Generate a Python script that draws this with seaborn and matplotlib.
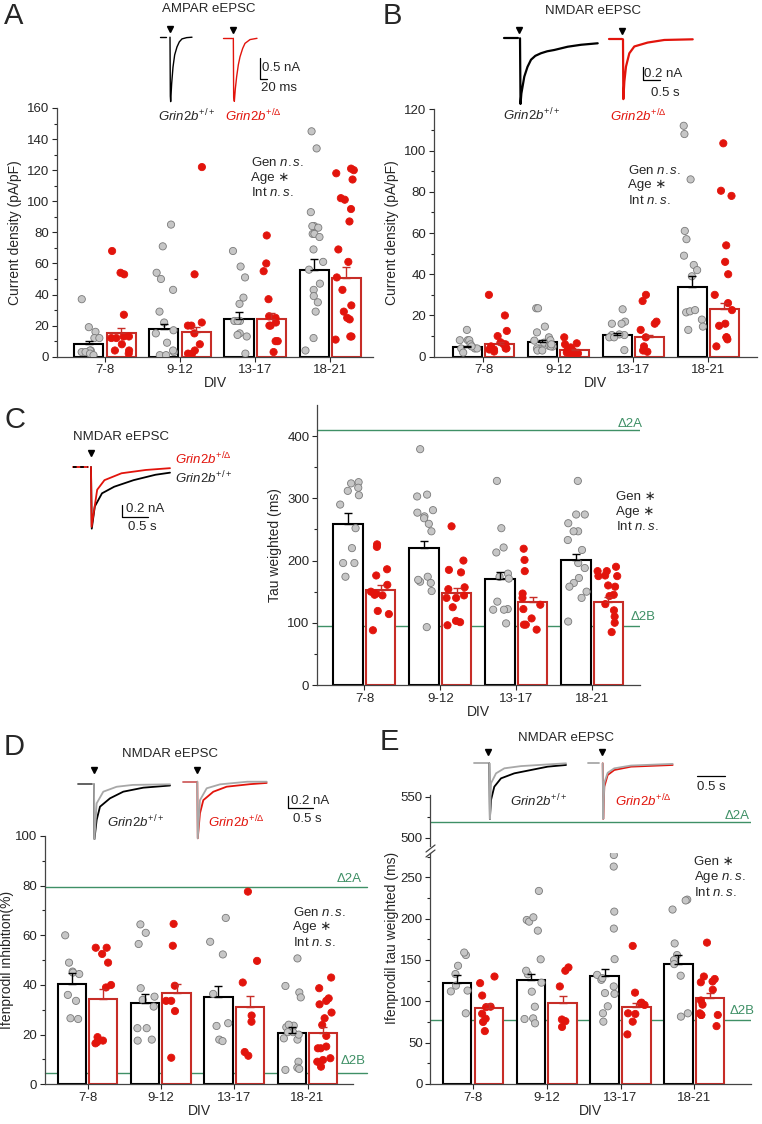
import numpy as np
import pandas as pd
import matplotlib
matplotlib.use("Agg")
from matplotlib import pyplot as plt
from matplotlib.lines import Line2D
import seaborn as sns

divs = ["7-8", "9-12", "13-17", "18-21"]

# ---------- A: AMPAR current density (pA/pF) ----------
a_wt = [[37, 16, 19, 12, 12, 4, 4, 3, 3, 2, 1],
        [85, 71, 54, 50, 43, 29, 22, 17, 15, 9, 3, 1, 1, 4],
        [68, 58, 51, 38, 34, 23, 23, 23, 15, 14, 13, 2],
        [145, 134, 93, 84, 84, 83, 79, 79, 77, 69, 61, 56, 47, 43, 39, 35, 29, 12, 4]]
a_mut = [[68, 53, 54, 27, 13, 13, 12, 12, 8, 4, 4, 2],
         [122, 53, 22, 20, 20, 15, 8, 4, 2, 2],
         [78, 60, 55, 37, 26, 25, 22, 20, 20, 10, 10, 3],
         [121, 120, 118, 114, 102, 101, 95, 87, 69, 61, 51, 43, 33, 29, 25, 24, 13, 13, 11]]
a_wt_mean = [8.2, 17.6, 24.5, 55.9]
a_wt_sem = [1.9, 3.3, 4.3, 7.0]
a_mut_mean = [15.3, 16.1, 24.3, 50.5]
a_mut_sem = [3.4, 3.3, 4.1, 6.9]

# ---------- B: NMDAR current density (pA/pF) ----------
b_wt = [[13, 8, 8, 8, 6, 4, 4, 4, 2, 5],
        [23.5, 23.5, 14.6, 11.8, 9.4, 8, 7.8, 6.8, 5.2, 4.9, 4, 4, 5, 6, 3, 3],
        [23, 17, 16, 16, 10.5, 10.8, 10.5, 9.4, 9.4, 3.2],
        [108, 112, 86, 61, 57, 49, 44.5, 42, 39, 21.5, 22, 22.6, 18, 14.6, 13]]
b_mut = [[30, 20, 12.5, 10, 6, 6, 7, 4, 3.5, 3.5, 2.5, 5, 4],
         [9.4, 6.5, 6, 4.5, 3.6, 2.9, 2.4, 1.6, 2.9, 1.6, 2, 2.5, 1.5],
         [30, 27, 17, 16, 13, 9.4, 3, 2.4, 5],
         [103.5, 78, 80.5, 54, 46, 40, 30, 26, 22.6, 16, 15, 9.4, 8.4, 9.4, 5]]
b_wt_mean = [4.9, 7.3, 10.5, 34.0]
b_wt_sem = [0.5, 0.8, 0.9, 5.3]
b_mut_mean = [6.1, 3.2, 9.4, 23.0]
b_mut_sem = [0.9, 0.5, 1.1, 3.2]

# ---------- C: tau weighted (ms) ----------
c_wt = [[326, 317, 312, 324, 290, 305, 252, 220, 196, 196, 174],
        [379, 306, 303, 281, 271, 268, 277, 259, 247, 174, 166, 164, 169, 151, 93],
        [328, 252, 221, 213, 179, 174, 171, 122, 121, 121, 134, 99],
        [328, 274, 274, 260, 247, 247, 233, 217, 196, 188, 172, 164, 150, 158, 102, 140]]
c_mut = [[226, 222, 186, 176, 161, 144, 147, 150, 145, 114, 119, 88],
         [255, 200, 185, 181, 154, 157, 140, 140, 144, 125, 101, 103, 96],
         [219, 201, 183, 147, 140, 129, 122, 107, 97, 97, 89],
         [190, 183, 183, 175, 175, 176, 160, 158, 145, 143, 130, 120, 110, 100, 85]]
c_wt_mean = [259, 220.5, 170.7, 201.3]
c_wt_sem = [17, 11.5, 10.3, 9.2]
c_mut_mean = [152.4, 147.6, 133.2, 134]
c_mut_sem = [8.6, 8.1, 9.0, 7.0]
c_d2a, c_d2b = 410, 95

# ---------- D: ifenprodil inhibition (%) ----------
d_wt = [[60, 49, 45.4, 45, 44.4, 36, 33.6, 26.6, 26.3],
        [64.4, 61, 56.5, 38.7, 35.3, 34, 31.3, 22.6, 22.6, 18, 17.6],
        [67, 57.4, 52.3, 36.4, 23.5, 24.6, 18, 17.4],
        [50.7, 39.6, 37, 35, 23, 23.6, 24, 18, 18.5, 21, 9.1, 6.7, 5.8, 6.2, 21, 20]]
d_mut = [[52.5, 55, 55, 49, 39, 40, 19, 17, 16.5, 17.6],
         [64.6, 55.8, 39.7, 33.6, 33.6, 29.5, 10.7],
         [77.6, 49.7, 41, 25.2, 27.7, 13, 11.5],
         [43, 38.7, 33.6, 34.6, 32.2, 28.9, 26.6, 23.9, 19.5, 14.5, 15.2, 14.5, 10.5, 9.8, 9.1, 7.1]]
d_wt_mean = [40.3, 32.9, 35.3, 20.5]
d_wt_sem = [4.4, 3.5, 4.4, 2.5]
d_mut_mean = [34.4, 36.6, 31.3, 20.5]
d_mut_sem = [3.9, 3.8, 4.3, 2.7]
d_d2a, d_d2b = 79.4, 4.7

# ---------- E: ifenprodil tau weighted (ms) ----------
e_wt = [[156, 159, 143, 133, 119, 113, 112, 85.5],
        [233.5, 198.4, 196.4, 201.6, 185.5, 150.8, 122.6, 132.7, 137, 111.7, 79.4, 73.4, 78.6, 93.5],
        [277, 263, 208.5, 188, 151, 132, 118, 126, 128, 110, 109, 94, 85.5, 75.4],
        [223, 222, 211, 170, 156, 150, 131, 145, 81.5, 85.5]]
e_mut = [[130, 122, 107, 93, 93.5, 79, 75, 64, 85],
         [141, 137, 118, 76, 78, 69],
         [167, 110.5, 95.6, 97.6, 98.4, 85.5, 84.7, 75.4, 60],
         [171, 123, 130, 127, 124, 114, 101, 96, 85.5, 83.5, 83.5, 83.5, 70]]
e_wt_mean = [121.8, 125.8, 131, 144.8]
e_wt_sem = [10.1, 7.2, 7.7, 11.2]
e_mut_mean = [92.3, 98.4, 92.7, 104.4]
e_mut_sem = [4.5, 8.1, 5.7, 6.1]
e_d2a, e_d2b = 519, 78

# ---------- example traces (time ms, current nA or normalised) ----------
ta_wt_t = [0, 1, 2, 5, 9, 14, 21, 28, 36, 50, 66]
ta_wt_i = [0, -1.4, -1.53, -1.1, -0.71, -0.42, -0.23, -0.11, -0.04, -0.01, 0]
ta_mut_t = [0, 1, 3, 6, 10, 15, 20, 28, 35, 50, 71]
ta_mut_i = [0, -1.4, -1.5, -1.2, -0.91, -0.63, -0.44, -0.24, -0.12, -0.03, 0]

tb_wt_t = [0, 15, 40, 126, 220, 323, 450, 617, 800, 1008, 1402, 1793, 2284]
tb_wt_i = [0, -1.01, -0.85, -0.59, -0.44, -0.33, -0.27, -0.23, -0.2, -0.18, -0.13, -0.1, -0.077]
tb_mut_t = [0, 10, 40, 88, 186, 333, 725, 1215, 2050]
tb_mut_i = [0, -0.92, -0.65, -0.42, -0.215, -0.11, -0.05, -0.01, 0]

tc_wt_t = [0, 15, 73, 211, 445, 818, 1238, 1517]
tc_wt_i = [0, -1.03, -0.66, -0.44, -0.33, -0.22, -0.13, -0.095]
tc_mut_t = [0, 12, 119, 259, 586, 1052, 1517]
tc_mut_i = [0, -1.0, -0.38, -0.22, -0.105, -0.05, -0.02]

td_wt_t = [0, 10, 55, 124, 330, 604, 1016, 1566]
td_wt_i = [0, -0.89, -0.58, -0.364, -0.228, -0.12, -0.055, -0.02]
td_wt_ifen_t = [0, 10, 55, 192, 467, 800, 1566]
td_wt_ifen_i = [0, -0.89, -0.31, -0.12, -0.04, -0.01, 0]
td_mut_t = [0, 10, 55, 124, 330, 605, 1086, 1430]
td_mut_i = [0, -0.92, -0.515, -0.3, -0.163, -0.081, -0.04, -0.02]
td_mut_ifen_t = [0, 10, 55, 194, 468, 1030, 1430]
td_mut_ifen_i = [0, -0.92, -0.3, -0.107, -0.043, 0, 0]

te_wt_t = [0, 10, 30, 89, 209, 446, 745, 1043, 1370]
te_wt_i = [0, -1, -0.66, -0.42, -0.27, -0.18, -0.12, -0.06, -0.03]
te_wt_ifen_t = [0, 10, 30, 120, 268, 566, 1043, 1370]
te_wt_ifen_i = [0, -1, -0.36, -0.18, -0.09, -0.05, -0.02, 0]
te_mut_t = [0, 10, 29, 89, 207, 506, 1250]
te_mut_i = [0, -1, -0.42, -0.21, -0.12, -0.06, -0.03]
te_mut_ifen_i = [0, -1, -0.35, -0.17, -0.09, -0.04, -0.01]

RED = "#e2140c"
GREEN = "#3f9066"
GRAYPT = "#c6c6c6"
GRAYTR = "#a8a8a8"

sns.set_style("ticks")
plt.rcParams["font.family"] = ["Liberation Sans", "DejaVu Sans"]
plt.rcParams["mathtext.fontset"] = "custom"
plt.rcParams["mathtext.rm"] = "Liberation Sans"
plt.rcParams["mathtext.it"] = "Liberation Sans:italic"
plt.rcParams["mathtext.sf"] = "Liberation Sans"
plt.rcParams["axes.edgecolor"] = "#444444"
plt.rcParams["axes.linewidth"] = 0.9

W, H = 762, 1124
fig = plt.figure(figsize=(W / 100, H / 100), dpi=100)
np.random.seed(7)


def add_ax(l, t, r, b):
    return fig.add_axes([l / W, 1 - b / H, (r - l) / W, (b - t) / H])


def ftext(x, y, s, **kw):
    kw.setdefault("va", "center")
    kw.setdefault("fontsize", 9.5)
    fig.text(x / W, 1 - y / H, s, **kw)


def bar_panel(ax, wt, mut, wt_mean, mut_mean, wt_sem, mut_sem, ylim, yticks, minor, xlim,
              ylabel, labelpad=4):
    df_mean = pd.DataFrame({"div": divs * 2, "geno": ["wt"] * 4 + ["mut"] * 4,
                            "val": wt_mean + mut_mean})
    sns.barplot(data=df_mean, x="div", y="val", hue="geno", order=divs, hue_order=["wt", "mut"],
                palette={"wt": "black", "mut": RED}, width=0.86, gap=0.1, errorbar=None,
                legend=False, linewidth=1.5, ax=ax, zorder=2)
    bars = sorted(ax.patches, key=lambda p: p.get_x())
    sems = [s for pair in zip(wt_sem, mut_sem) for s in pair]
    for p, s in zip(bars, sems):
        col = p.get_facecolor()
        p.set_edgecolor(col)
        p.set_facecolor("white")
        ax.errorbar(p.get_x() + p.get_width() / 2, p.get_height(), yerr=[[0], [s]],
                    color=col, capsize=2.6, lw=1, capthick=1, zorder=4)

    rows = [(d, g, v) for g, data in (("wt", wt), ("mut", mut))
            for d, vals in zip(divs, data) for v in vals]
    pts = pd.DataFrame(rows, columns=["div", "geno", "val"])
    for g, fc, ec in (("wt", GRAYPT, "#7a7a7a"), ("mut", RED, RED)):
        sns.stripplot(data=pts[pts["geno"] == g], x="div", y="val", hue="geno", order=divs,
                      hue_order=["wt", "mut"], palette={"wt": fc, "mut": fc}, dodge=True,
                      jitter=0.26, size=5.2, linewidth=0.6, edgecolor=ec, legend=False,
                      ax=ax, zorder=3)

    ax.set_xlim(xlim)
    ax.set_ylim(ylim)
    ax.set_yticks(yticks)
    ax.set_yticks(minor, minor=True)
    sns.despine(ax=ax)
    ax.set_xlabel("DIV", fontsize=10, labelpad=0)
    ax.set_ylabel(ylabel, fontsize=10, labelpad=labelpad)
    ax.tick_params(labelsize=9.5, length=3.5, width=0.8, pad=2)
    ax.tick_params(which="minor", length=2, width=0.8)


def trace_ax(l, t, r, b, xlim, ylim):
    tax = add_ax(l, t, r, b)
    tax.set_xlim(xlim)
    tax.set_ylim(ylim)
    tax.axis("off")
    return tax


def stats(x, y, lines):
    for k, s in enumerate(lines):
        ftext(x, y + k * 15, s, fontsize=9.5)


wt_lab = r"$\mathit{Grin2b}^{+/+}$"
mut_lab = r"$\mathit{Grin2b}^{+/\Delta}$"
ns = r"$\mathit{n.s.}$"

# ================= panel A =================
ax = add_ax(57, 108, 373, 356.7)
bar_panel(ax, a_wt, a_mut, a_wt_mean, a_mut_mean, a_wt_sem, a_mut_sem, (0, 160),
          range(0, 161, 20), range(10, 160, 20), (-0.64, 3.57), "Current density (pA/pF)")
stats(251, 163, ["Gen " + ns, "Age \u2217", "Int " + ns])
ftext(4, 16, "A", fontsize=21)
ftext(209, 9, "AMPAR eEPSC", ha="center")

t1 = trace_ax(155, 25, 195, 105, (-45, 75), (-1.61, 0.29))
t1.plot([-30, -12], [0, 0], color="black", lw=1)
t1.plot(ta_wt_t, ta_wt_i, color="black", lw=1)
t1.plot([-1], [0.2], marker="v", color="black", ms=4.5, clip_on=False)
t2 = trace_ax(218, 25, 275, 105, (-46, 125), (-1.587, 0.317))
t2.plot([-30, -5], [0, 0], color=RED, lw=1)
t2.plot(ta_mut_t, ta_mut_i, color=RED, lw=1)
t2.plot([-1], [0.2], marker="v", color="black", ms=4.5, clip_on=False)
t2.plot([80, 80, 100], [-0.46, -0.96, -0.96], color="black", lw=0.9)
ftext(262, 68, "0.5 nA")
ftext(261, 88, "20 ms")
ftext(158, 116, wt_lab)
ftext(225, 116, mut_lab, color=RED)

# ================= panel B =================
ax = add_ax(434, 109.3, 757, 356.7)
bar_panel(ax, b_wt, b_mut, b_wt_mean, b_mut_mean, b_wt_sem, b_mut_sem, (0, 120),
          range(0, 121, 20), range(10, 120, 20), (-0.66, 3.65), "Current density (pA/pF)")
stats(628, 170, ["Gen " + ns, "Age \u2217", "Int " + ns])
ftext(383, 16, "B", fontsize=21)
ftext(593, 11, "NMDAR eEPSC", ha="center")

t1 = trace_ax(498, 28, 603, 110, (-647, 2440), (-1.103, 0.158))
t1.plot([-470, -59], [0, 0], color="black", lw=1.6)
t1.plot(tb_wt_t, tb_wt_i, color="black", lw=1.6)
t1.plot([-20], [0.13], marker="v", color="black", ms=4.5, clip_on=False)
t2 = trace_ax(600, 28, 700, 110, (-676, 2264), (-1.087, 0.174))
t2.plot([-412, -29], [0, 0], color=RED, lw=1.6)
t2.plot(tb_mut_t, tb_mut_i, color=RED, lw=1.6)
t2.plot([-15], [0.13], marker="v", color="black", ms=4.5, clip_on=False)
t2.plot([588, 588, 1088], [-0.421, -0.621, -0.621], color="black", lw=0.9)
ftext(644, 74, "0.2 nA")
ftext(651, 93, "0.5 s")
ftext(503, 115, wt_lab)
ftext(610, 116, mut_lab, color=RED)

# ================= panel C =================
ax = add_ax(317, 405, 640, 685)
ax.axhline(c_d2a, color=GREEN, lw=1, zorder=1)
ax.axhline(c_d2b, color=GREEN, lw=1, zorder=1)
bar_panel(ax, c_wt, c_mut, c_wt_mean, c_mut_mean, c_wt_sem, c_mut_sem, (0, 450),
          range(0, 401, 100), range(50, 450, 100), (-0.625, 3.63), "Tau weighted (ms)")
stats(616, 497, ["Gen \u2217", "Age \u2217", "Int " + ns])
ftext(618, 424, "\u03942A", color=GREEN)
ftext(631, 617, "\u03942B", color=GREEN)
ftext(4, 420, "C", fontsize=21)
ftext(73, 437, "NMDAR eEPSC")

t1 = trace_ax(70, 445, 175, 535, (-403, 1613), (-1.136, 0.367))
t1.plot([-346, -58], [0, 0], color=RED, lw=1.3)
t1.plot([-346, -58], [0, 0], color="black", lw=1.3, dashes=(2, 2))
t1.plot(tc_wt_t, tc_wt_i, color="black", lw=1.3)
t1.plot(tc_mut_t, tc_mut_i, color=RED, lw=1.3)
t1.plot([0], [0.234], marker="v", color="black", ms=4.5, clip_on=False)
t1.plot([603, 603, 1103], [-0.634, -0.834, -0.834], color="black", lw=0.9)
ftext(126, 509, "0.2 nA")
ftext(128, 527, "0.5 s")
ftext(175, 459, mut_lab, color=RED)
ftext(175, 478, wt_lab)

# ================= panel D =================
ax = add_ax(45, 836, 353, 1084.3)
ax.axhline(d_d2a, xmax=1.045, color=GREEN, lw=1, zorder=1, clip_on=False)
ax.axhline(d_d2b, xmax=1.045, color=GREEN, lw=1, zorder=1, clip_on=False)
bar_panel(ax, d_wt, d_mut, d_wt_mean, d_mut_mean, d_wt_sem, d_mut_sem, (0, 100),
          range(0, 101, 20), range(10, 100, 20), (-0.58, 3.62), "Ifenprodil inhibition(%)",
          labelpad=1)
stats(293, 912, ["Gen " + ns, "Age \u2217", "Int " + ns])
ftext(337, 879, "\u03942A", color=GREEN)
ftext(341, 1061, "\u03942B", color=GREEN)
ftext(4, 747, "D", fontsize=21)
ftext(170, 754, "NMDAR eEPSC", ha="center")

t1 = trace_ax(75, 760, 175, 845, (-391, 1669), (-0.987, 0.395))
t1.plot([-330, -41], [0, 0], color="#555555", lw=1.3)
t1.plot(td_wt_t, td_wt_i, color="black", lw=1.3)
t1.plot(td_wt_ifen_t, td_wt_ifen_i, color=GRAYTR, lw=1.3)
t1.plot([0], [0.23], marker="v", color="black", ms=4.5, clip_on=False)
t2 = trace_ax(180, 760, 320, 845, (-356, 2528), (-1.029, 0.353))
t2.plot([-295, -6], [0, 0], color="#d06060", lw=1.3)
t2.plot(td_mut_t, td_mut_i, color=RED, lw=1.3)
t2.plot(td_mut_ifen_t, td_mut_ifen_i, color=GRAYTR, lw=1.3)
t2.plot([0], [0.19], marker="v", color="black", ms=4.5, clip_on=False)
t2.plot([1875, 1875, 2375], [-0.2325, -0.4325, -0.4325], color="black", lw=0.9)
ftext(291, 801, "0.2 nA")
ftext(293, 819, "0.5 s")
ftext(107, 822, wt_lab)
ftext(208, 822, mut_lab, color=RED)

# ================= panel E (broken axis) =================
ax = add_ax(430.3, 852.5, 751, 1084)
ax.axhline(e_d2b, color=GREEN, lw=1, zorder=1)
bar_panel(ax, e_wt, e_mut, e_wt_mean, e_mut_mean, e_wt_sem, e_mut_sem, (0, 280),
          range(0, 251, 50), range(25, 280, 50), (-0.58, 3.77), "")
axu = add_ax(430.3, 795, 751, 846)
axu.set_ylim(490, 552)
axu.set_xlim(0, 1)
axu.set_yticks([500, 550])
axu.set_yticks([525], minor=True)
axu.set_xticks([])
axu.axhline(e_d2a, color=GREEN, lw=1)
sns.despine(ax=axu, bottom=True)
axu.tick_params(labelsize=9.5, length=3.5, width=0.8, pad=2)
axu.tick_params(which="minor", length=2, width=0.8)
for dy in (0, 5):
    fig.add_artist(Line2D([426 / W, 435 / W], [1 - (852 + dy) / H, 1 - (845 + dy) / H],
                          color="#444444", lw=0.9))
ftext(392, 938, "Ifenprodil tau weighted (ms)", rotation=90, ha="center", fontsize=10)
stats(694, 862, ["Gen \u2217", "Age " + ns, "Int " + ns])
ftext(725, 816, "\u03942A", color=GREEN)
ftext(730, 1011, "\u03942B", color=GREEN)
ftext(380, 742, "E", fontsize=21)
ftext(566, 738, "NMDAR eEPSC", ha="center")

t1 = trace_ax(470, 745, 570, 825, (-345, 1441), (-1.108, 0.329))
t1.plot([-273, -20], [0, 0], color=GRAYTR, lw=1.3)
t1.plot(te_wt_t, te_wt_i, color="black", lw=1.3)
t1.plot(te_wt_ifen_t, te_wt_ifen_i, color=GRAYTR, lw=1.3)
t1.plot([-20], [0.2], marker="v", color="black", ms=4.5, clip_on=False)
t2 = trace_ax(585, 745, 730, 825, (-316, 2274), (-1.108, 0.329))
t2.plot([-262, -66], [0, 0], color=GRAYTR, lw=1.3)
t2.plot(te_mut_t, te_mut_i, color=RED, lw=1.3)
t2.plot(te_mut_t, te_mut_ifen_i, color=GRAYTR, lw=1.3)
t2.plot([-20], [0.2], marker="v", color="black", ms=4.5, clip_on=False)
t2.plot([1684, 2184], [-0.228, -0.228], color="black", lw=0.9)
ftext(697, 787, "0.5 s")
ftext(510, 801, wt_lab)
ftext(615, 801, mut_lab, color=RED)

fig.savefig("out.png", dpi=100)
